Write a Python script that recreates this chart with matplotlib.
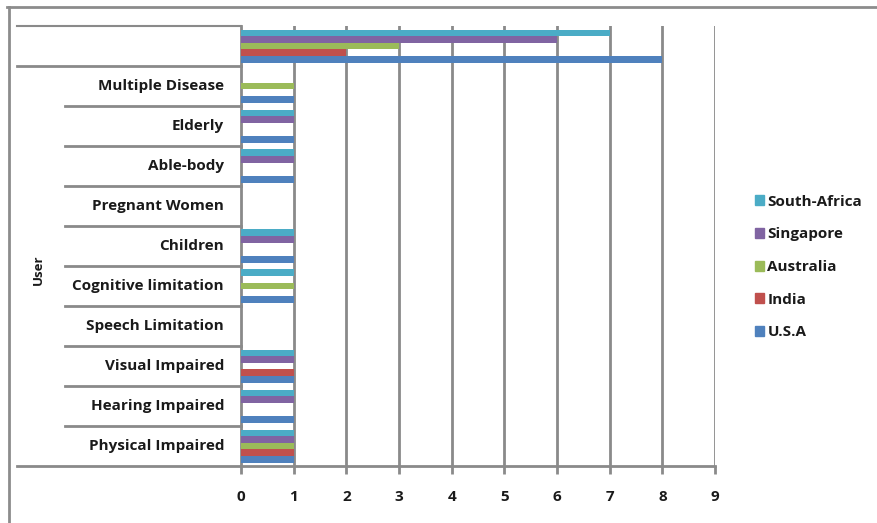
import matplotlib
matplotlib.use("Agg")
import matplotlib.pyplot as plt
import numpy as np
from matplotlib.lines import Line2D
from matplotlib.patches import Patch

categories = ["Physical Impaired", "Hearing Impaired", "Visual Impaired", "Speech Limitation",
              "Cognitive limitation", "Children", "Pregnant Women", "Able-body", "Elderly",
              "Multiple Disease", ""]
series_names = ["U.S.A", "India", "Australia", "Singapore", "South-Africa"]
usa          = [1, 1, 1, 0, 1, 1, 0, 1, 1, 1, 8]
india        = [1, 0, 1, 0, 0, 0, 0, 0, 0, 0, 2]
australia    = [1, 0, 0, 0, 1, 0, 0, 0, 0, 1, 3]
singapore    = [1, 1, 1, 0, 0, 1, 0, 1, 1, 0, 6]
south_africa = [1, 1, 1, 0, 1, 1, 0, 1, 1, 0, 7]
group_label = "User"
x_ticks = list(range(0, 10))

colors = ["#4F81BD", "#C0504D", "#9BBB59", "#8064A2", "#4BACC6"]
series = [usa, india, australia, singapore, south_africa]

W, H = 877, 523
fig = plt.figure(figsize=(W / 100, H / 100), dpi=100)
ax_l, ax_r, ax_t, ax_b = 241, 715, 26, 466
ax = fig.add_axes([ax_l / W, (H - ax_b) / H, (ax_r - ax_l) / W, (ax_b - ax_t) / H])

grid_c = "#8a8a8a"
font = "Open Sans"
fs = 11
txt_c = "#1a1a1a"

y = np.arange(len(categories))
h = 0.165
for i, (vals, c, name) in enumerate(zip(series, colors, series_names)):
    ax.barh(y + (i - 2) * h, vals, height=h, color=c, label=name, zorder=3)

ax.set_xlim(0, 9)
ax.set_ylim(-0.5, len(categories) - 0.5)
ax.set_xticks(x_ticks)
ax.set_xticklabels([str(t) for t in x_ticks], fontfamily=font, fontweight="bold", fontsize=fs,
                   color=txt_c)
ax.tick_params(axis="x", length=6, width=2, color=grid_c, pad=11)
ax.set_yticks([])
for t in x_ticks[1:]:
    ax.axvline(t, color=grid_c, lw=2, zorder=1)
for s in ["top", "right"]:
    ax.spines[s].set_visible(False)
for s in ["left", "bottom"]:
    ax.spines[s].set_color(grid_c)
    ax.spines[s].set_linewidth(2)

tr = ax.get_yaxis_transform()
x_inner = (65 - ax_l) / (ax_r - ax_l)
x_outer = (17 - ax_l) / (ax_r - ax_l)
n = len(categories)
for k in range(n - 2):
    ax.plot([x_inner, 0], [k + 0.5, k + 0.5], transform=tr, color=grid_c, lw=2, clip_on=False)
for yy in [-0.5, n - 1.5, n - 0.5]:
    ax.plot([x_outer, 0], [yy, yy], transform=tr, color=grid_c, lw=2 if yy != n - 0.5 else 1.5,
            clip_on=False)

x_lab = (224 - ax_l) / (ax_r - ax_l)
for k, cat in enumerate(categories):
    ax.text(x_lab, k, cat, transform=tr, ha="right", va="center", fontfamily=font,
            fontweight="bold", fontsize=fs, color=txt_c)

fig.text(38 / W, 1 - 270 / H, group_label, rotation=90, ha="center", va="center",
         fontfamily=font, fontweight="bold", fontsize=9.5, color=txt_c)

handles = [Patch(color=c, label=nm) for c, nm in zip(colors[::-1], series_names[::-1])]
fig.legend(handles=handles, loc="upper left", bbox_to_anchor=(741 / W, 1 - 181 / H),
           frameon=False, handlelength=0.62, handleheight=0.62, handletextpad=0.2,
           labelspacing=1.22, prop={"family": font, "weight": "bold", "size": fs},
           labelcolor=txt_c)

fig.add_artist(Line2D([7 / W, 1], [1 - 7 / H, 1 - 7 / H], color="#8c8c8c", lw=2,
                      transform=fig.transFigure))
fig.add_artist(Line2D([9 / W, 9 / W], [0, 1 - 7 / H], color="#8c8c8c", lw=2,
                      transform=fig.transFigure))

fig.savefig("out.png", dpi=100)
